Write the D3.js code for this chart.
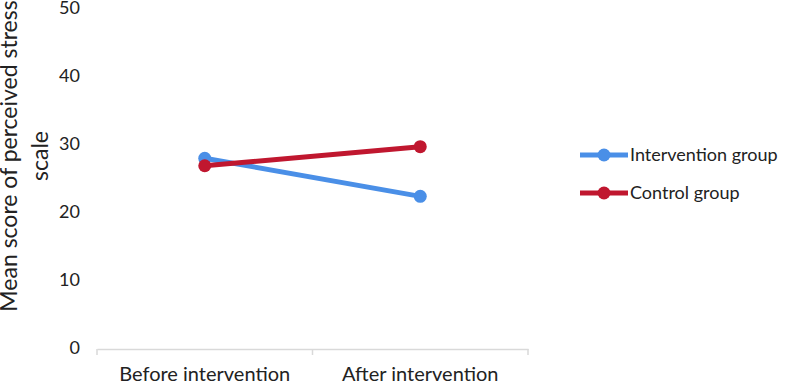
<!DOCTYPE html>
<html>
<head>
<meta charset="utf-8">
<script src="https://cdn.jsdelivr.net/npm/d3@7"></script>
<style>
  body { margin: 0; background: #fff; }
  text { font-family: Lato, "Open Sans", sans-serif; fill: #222; }
</style>
</head>
<body>
<div id="chart"></div>
<script>
// Datos
var categories = ["Before intervention", "After intervention"];
var seriesNames = ["Intervention group", "Control group"];
var interventionValues = [27.9, 22.3];
var controlValues = [26.8, 29.6];
var yTicks = [0, 10, 20, 30, 40, 50];
var colors = ["#4a8fe7", "#c0172f"];

var width = 787, height = 381;

var svg = d3.select("#chart").append("svg")
    .attr("width", width)
    .attr("height", height);

var xScale = d3.scaleBand()
    .domain(categories)
    .range([97, 528]);

var yScale = d3.scaleLinear()
    .domain([0, 50])
    .range([348, 8]);

// Eje X
var xAxis = svg.append("g")
    .attr("transform", "translate(0,349)")
    .call(d3.axisBottom(xScale).tickSize(0).tickPadding(18));
xAxis.select(".domain").attr("stroke", "#d9d9d9").attr("stroke-width", 1.5);
xAxis.selectAll("text").style("font-size", "20px").attr("fill", "#222");

// marcas de separación entre categorías
var edges = [xScale.range()[0]].concat(categories.map(function (c) { return xScale(c) + xScale.bandwidth(); }));
svg.selectAll(".sep")
    .data(edges)
    .enter().append("line")
    .attr("x1", function (d) { return d; })
    .attr("x2", function (d) { return d; })
    .attr("y1", 349)
    .attr("y2", 355)
    .attr("stroke", "#d9d9d9")
    .attr("stroke-width", 1.5);

// Eje Y (solo etiquetas)
var yAxis = svg.append("g")
    .attr("transform", "translate(88,0)")
    .call(d3.axisLeft(yScale).tickValues(yTicks).tickSize(0).tickPadding(8));
yAxis.select(".domain").remove();
yAxis.selectAll("text").style("font-size", "18px").attr("fill", "#222");

// Título del eje Y
var yTitle = svg.append("text")
    .attr("transform", "translate(17,156) rotate(-90)")
    .style("text-anchor", "middle")
    .style("font-size", "23px");
yTitle.append("tspan").attr("x", 0).attr("dy", 0).text("Mean score of perceived stress");
yTitle.append("tspan").attr("x", 0).attr("dy", 31).text("scale");

// Series
var series = [interventionValues, controlValues];
var line = d3.line()
    .x(function (d, i) { return xScale(categories[i]) + xScale.bandwidth() / 2; })
    .y(function (d) { return yScale(d); });

series.forEach(function (vals, s) {
    svg.append("path")
        .datum(vals)
        .attr("d", line)
        .attr("fill", "none")
        .attr("stroke", colors[s])
        .attr("stroke-width", 5);
    svg.selectAll(".pt" + s)
        .data(vals)
        .enter().append("circle")
        .attr("cx", function (d, i) { return xScale(categories[i]) + xScale.bandwidth() / 2; })
        .attr("cy", function (d) { return yScale(d); })
        .attr("r", 6.5)
        .attr("fill", colors[s]);
});

// Leyenda
var legend = svg.selectAll(".legend")
    .data(seriesNames)
    .enter().append("g")
    .attr("transform", function (d, i) { return "translate(580," + (155 + i * 38) + ")"; });
legend.append("line")
    .attr("x1", 0).attr("x2", 48)
    .attr("stroke", function (d, i) { return colors[i]; })
    .attr("stroke-width", 5);
legend.append("circle")
    .attr("cx", 24).attr("r", 6.5)
    .attr("fill", function (d, i) { return colors[i]; });
legend.append("text")
    .attr("x", 50).attr("dy", "0.35em")
    .style("font-size", "18px")
    .text(function (d) { return d; });
</script>
</body>
</html>
